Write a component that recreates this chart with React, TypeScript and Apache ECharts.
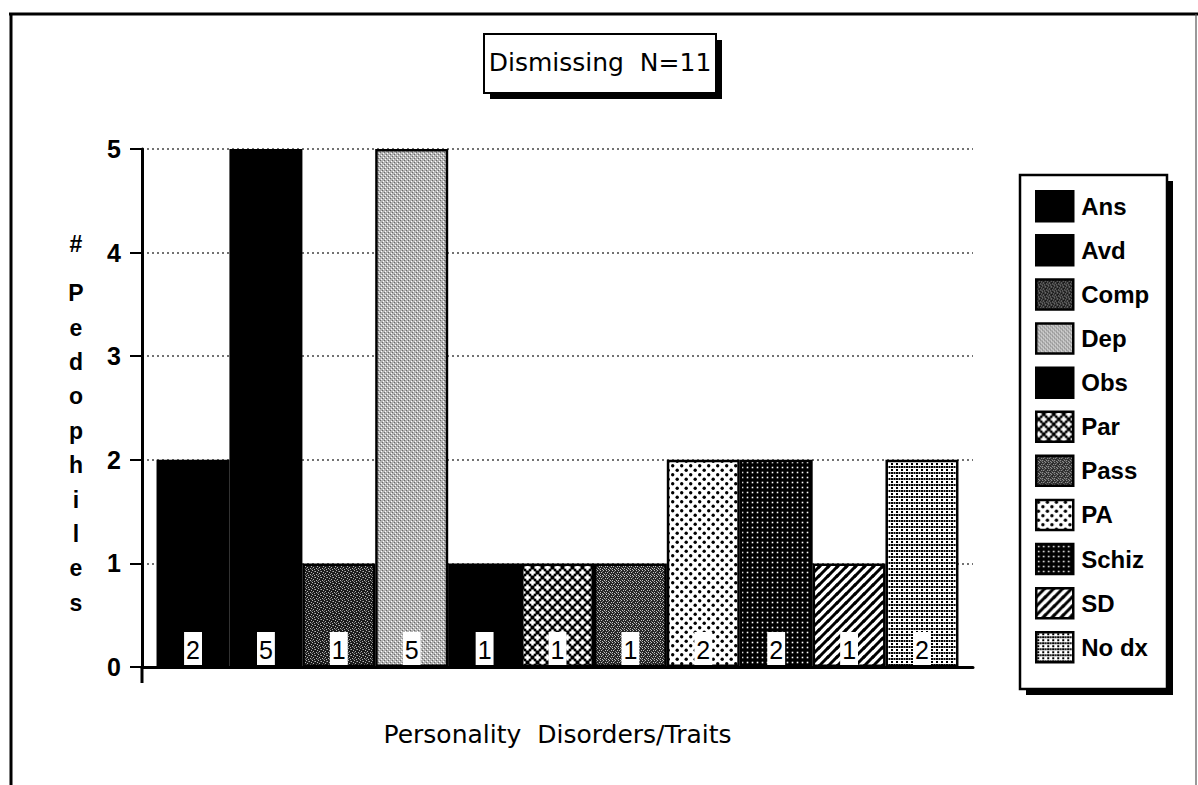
import React, { useEffect, useRef } from 'react';
import * as echarts from 'echarts';

const categories = ['Ans', 'Avd', 'Comp', 'Dep', 'Obs', 'Par', 'Pass', 'PA', 'Schiz', 'SD', 'No dx'];
const counts = [2, 5, 1, 5, 1, 1, 1, 2, 2, 1, 2];
const yTicks = [0, 1, 2, 3, 4, 5];
const titleText = 'Dismissing  N=11';
const xName = 'Personality  Disorders/Traits';
const yNameHead = '#';
const yNameLetters = ['P', 'e', 'd', 'o', 'p', 'h', 'i', 'l', 'e', 's'];

type Draw = (ctx: CanvasRenderingContext2D) => void;

function makePattern(w: number, h: number, bg: string, draw: Draw) {
  const c = document.createElement('canvas');
  c.width = w;
  c.height = h;
  const ctx = c.getContext('2d') as CanvasRenderingContext2D;
  ctx.fillStyle = bg;
  ctx.fillRect(0, 0, w, h);
  for (const dx of [-w, 0, w]) {
    for (const dy of [-h, 0, h]) {
      ctx.save();
      ctx.translate(dx, dy);
      draw(ctx);
      ctx.restore();
    }
  }
  return { image: c.toDataURL(), repeat: 'repeat', imageWidth: w, imageHeight: h };
}

function pixels(color: string, pts: number[][], size = 1): Draw {
  return (ctx) => {
    ctx.fillStyle = color;
    pts.forEach(([x, y]) => ctx.fillRect(x, y, size, size));
  };
}

function buildFills(): any[] {
  const comp = makePattern(6, 6, '#1c1c1c', (ctx) => {
    pixels('#b5b5b5', [[0, 0], [3, 1], [5, 2], [1, 3], [4, 4], [2, 5]])(ctx);
    pixels('#707070', [[2, 1], [5, 5], [0, 4]])(ctx);
  });
  const dep = makePattern(4, 4, '#b4b4b4', (ctx) => {
    pixels('#6a6a6a', [[0, 0], [2, 2]])(ctx);
    pixels('#ffffff', [[1, 3], [3, 1]])(ctx);
  });
  const par = makePattern(10, 10, '#000', (ctx) => {
    ctx.fillStyle = '#fff';
    [[2.5, 2.5], [7.5, 7.5]].forEach(([cx, cy]) => {
      ctx.fillRect(cx - 3, cy - 1.2, 6, 2.4);
      ctx.fillRect(cx - 1.2, cy - 3, 2.4, 6);
    });
  });
  const pass = makePattern(6, 6, '#262626', (ctx) => {
    pixels('#c4c4c4', [[0, 0], [3, 0], [5, 2], [1, 2], [4, 4], [2, 5], [0, 4]])(ctx);
    pixels('#808080', [[2, 1], [5, 5], [3, 3]])(ctx);
  });
  const pa = makePattern(9, 9, '#fff', (ctx) => {
    ctx.fillStyle = '#000';
    [[2.2, 2.2], [6.7, 6.7]].forEach(([cx, cy]) => {
      ctx.beginPath();
      ctx.arc(cx, cy, 1.7, 0, Math.PI * 2);
      ctx.fill();
    });
  });
  const schiz = makePattern(5, 5, '#000', pixels('#fff', [[1.7, 1.7]], 1.6));
  const sd = makePattern(9, 9, '#fff', (ctx) => {
    ctx.strokeStyle = '#000';
    ctx.lineWidth = 3;
    ctx.beginPath();
    ctx.moveTo(-1, 10);
    ctx.lineTo(10, -1);
    ctx.stroke();
  });
  const nodx = makePattern(10, 6, '#fff', pixels('#000', [[1, 1], [6, 1], [1, 4], [3.5, 4], [6, 4], [8.5, 4]], 2));
  return ['#000', '#000', comp, dep, '#000', par, pass, pa, schiz, sd, nodx];
}

export default function App() {
  const ref = useRef<HTMLDivElement>(null);

  useEffect(() => {
    if (!ref.current) return;
    const chart = echarts.init(ref.current, undefined, { renderer: 'svg' });
    const fills = buildFills();

    const series = categories.map((name, i) => ({
      name,
      type: 'bar',
      data: [[i, counts[i]]],
      barWidth: 73,
      barGap: '-100%',
      itemStyle: { color: fills[i], borderColor: '#000', borderWidth: 2.5 },
      label: {
        show: true,
        position: 'insideBottom',
        distance: 2,
        formatter: (p: any) => String(p.value[1]),
        color: '#000',
        fontSize: 25,
        fontFamily: 'Liberation Sans',
        backgroundColor: '#fff',
        padding: [4, 2, 1, 2],
        lineHeight: 28,
      },
      emphasis: { disabled: true },
      z: 3,
    }));

    chart.setOption({
      animation: false,
      backgroundColor: '#fff',
      title: {
        text: titleText,
        left: 600,
        top: 50,
        textAlign: 'center',
        padding: 0,
        z: 10,
        textStyle: { fontFamily: 'DejaVu Sans', fontSize: 25, fontWeight: 'normal', color: '#000' },
      },
      legend: {
        show: true,
        orient: 'vertical',
        left: 1035,
        top: 190,
        padding: 0,
        itemWidth: 37,
        itemHeight: 30,
        itemGap: 11.6,
        icon: 'rect',
        selectedMode: false,
        z: 10,
        data: categories,
        itemStyle: { borderColor: '#000', borderWidth: 2.5 },
        textStyle: {
          fontSize: 24,
          fontWeight: 'bold',
          fontFamily: 'Liberation Sans',
          color: '#000',
          padding: [0, 0, 0, 3],
        },
      },
      grid: { left: 142, right: 225, top: 149, bottom: 118, containLabel: false },
      xAxis: {
        type: 'value',
        min: -0.7,
        max: 10.7,
        axisLine: { show: true, onZero: false, lineStyle: { color: '#000', width: 3 } },
        axisTick: { show: false },
        axisLabel: { show: false },
        splitLine: { show: false },
        name: xName,
        nameLocation: 'middle',
        nameGap: 55,
        nameTextStyle: { fontFamily: 'DejaVu Sans', fontSize: 25, color: '#000' },
      },
      yAxis: {
        type: 'value',
        min: 0,
        max: 5,
        interval: 1,
        axisLine: { show: true, onZero: false, lineStyle: { color: '#000', width: 3 } },
        axisTick: { show: true, length: 12, lineStyle: { color: '#000', width: 2 } },
        axisLabel: {
          margin: 21,
          fontSize: 25,
          fontWeight: 'bold',
          fontFamily: 'Liberation Sans',
          color: '#000',
          formatter: (v: number) => (yTicks.includes(v) ? String(v) : ''),
        },
        splitLine: { show: true, lineStyle: { color: '#444', width: 1.5, type: [2, 3] } },
      },
      graphic: [
        { type: 'line', z: 1, shape: { x1: 9, y1: 14, x2: 1198, y2: 14 }, style: { stroke: '#000', lineWidth: 3 } },
        { type: 'line', z: 1, shape: { x1: 11, y1: 13, x2: 11, y2: 785 }, style: { stroke: '#000', lineWidth: 3 } },
        { type: 'line', z: 1, shape: { x1: 1196, y1: 14, x2: 1196, y2: 785 }, style: { stroke: '#555', lineWidth: 1.2 } },
        { type: 'line', z: 1, shape: { x1: 142, y1: 666, x2: 142, y2: 683 }, style: { stroke: '#000', lineWidth: 3 } },
        { type: 'rect', z: 1, shape: { x: 490, y: 40, width: 232, height: 59 }, style: { fill: '#000' } },
        { type: 'rect', z: 1, shape: { x: 484, y: 34, width: 232, height: 59 }, style: { fill: '#fff', stroke: '#000', lineWidth: 2 } },
        { type: 'rect', z: 1, shape: { x: 1026, y: 181, width: 147, height: 514 }, style: { fill: '#000' } },
        { type: 'rect', z: 1, shape: { x: 1020, y: 175, width: 147, height: 514 }, style: { fill: '#fff', stroke: '#000', lineWidth: 2.5 } },
        {
          type: 'text', z: 5, x: 76, y: 244,
          style: { text: yNameHead, fontSize: 23, fontWeight: 'bold', fontFamily: 'Liberation Sans', fill: '#000', align: 'center', verticalAlign: 'middle' },
        },
        {
          type: 'text', z: 5, x: 76, y: 276,
          style: {
            text: yNameLetters.join('\n'), fontSize: 23, fontWeight: 'bold', fontFamily: 'Liberation Sans',
            fill: '#000', align: 'center', verticalAlign: 'top', lineHeight: 34.4,
          },
        },
      ],
      series,
    });

    return () => chart.dispose();
  }, []);

  return (
    <div
      ref={ref}
      style={{ position: 'absolute', left: 0, top: 0, width: 1198, height: 785, background: '#fff' }}
    />
  );
}
